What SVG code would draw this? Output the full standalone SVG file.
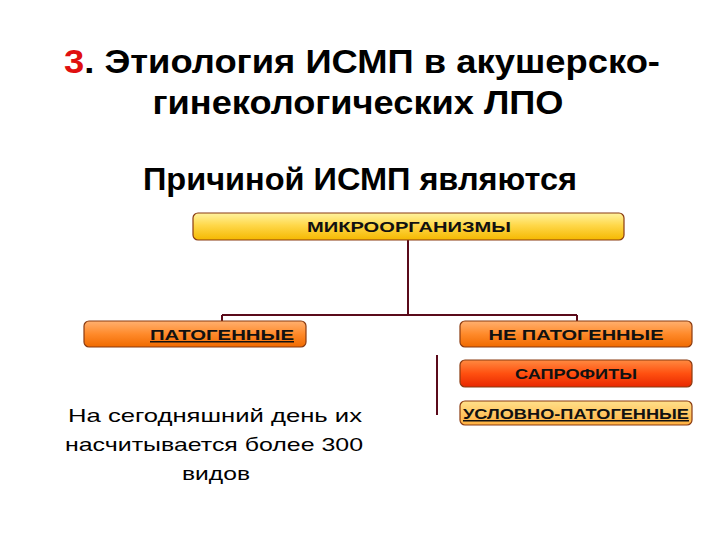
<svg xmlns="http://www.w3.org/2000/svg" width="720" height="540" viewBox="0 0 720 540">
<defs>
<linearGradient id="gy" x1="0" y1="0" x2="0" y2="1"><stop offset="0" stop-color="#fff3a0"/><stop offset="0.45" stop-color="#ffd84a"/><stop offset="1" stop-color="#f5b800"/></linearGradient>
<linearGradient id="go" x1="0" y1="0" x2="0" y2="1"><stop offset="0" stop-color="#ffb070"/><stop offset="0.5" stop-color="#ff8a2a"/><stop offset="1" stop-color="#f06a00"/></linearGradient>
<linearGradient id="gr" x1="0" y1="0" x2="0" y2="1"><stop offset="0" stop-color="#ff8a40"/><stop offset="0.5" stop-color="#ff5010"/><stop offset="1" stop-color="#e82800"/></linearGradient>
<linearGradient id="gl" x1="0" y1="0" x2="0" y2="1"><stop offset="0" stop-color="#ffe08a"/><stop offset="1" stop-color="#ffb040"/></linearGradient>
</defs>
<style>
.t{font-family:"Liberation Sans",Arial,sans-serif;font-weight:bold;fill:#000;text-anchor:middle}
.b{stroke:#8a3a10;stroke-width:1.2}
.l{font-family:"Liberation Sans",Arial,sans-serif;font-weight:bold;font-size:15px;fill:#111;text-anchor:middle}
.c{stroke:#5a0a1a;stroke-width:2;fill:none}
.n{font-family:"Liberation Sans",Arial,sans-serif;font-size:19px;fill:#000;text-anchor:middle}
</style>
<text class="t" x="362" y="73" font-size="33" textLength="596" lengthAdjust="spacingAndGlyphs"><tspan fill="#e01010">3</tspan>. Этиология ИСМП в акушерско-</text>
<text class="t" x="358" y="114" font-size="33" textLength="411" lengthAdjust="spacingAndGlyphs">гинекологических ЛПО</text>
<text class="t" x="360" y="190" font-size="31" textLength="434" lengthAdjust="spacingAndGlyphs">Причиной ИСМП  являются</text>
<g id="connectors">
<path class="c" d="M408 240 V315 M222 315 H577 M222 315 V321 M577 315 V321"/>
<path class="c" d="M437 355 V415"/>
</g>
<g id="micro">
<rect class="b" x="193" y="213" width="431" height="27" rx="5" fill="url(#gy)"/>
<text class="l" x="409" y="232" textLength="204" lengthAdjust="spacingAndGlyphs">МИКРООРГАНИЗМЫ</text>
</g>
<g id="pat">
<rect class="b" x="84" y="321" width="222" height="26" rx="5" fill="url(#go)"/>
<text class="l" x="222" y="340" textLength="144" lengthAdjust="spacingAndGlyphs" text-decoration="underline">ПАТОГЕННЫЕ</text>
</g>
<g id="nepat">
<rect class="b" x="460" y="321" width="232" height="26" rx="5" fill="url(#go)"/>
<text class="l" x="576" y="340" textLength="175" lengthAdjust="spacingAndGlyphs">НЕ ПАТОГЕННЫЕ</text>
</g>
<g id="sapr">
<rect class="b" x="460" y="360" width="232" height="27" rx="5" fill="url(#gr)"/>
<text class="l" x="576" y="379" textLength="122" lengthAdjust="spacingAndGlyphs">САПРОФИТЫ</text>
</g>
<g id="uslovno">
<rect class="b" x="460" y="401" width="232" height="24" rx="5" fill="url(#gl)"/>
<text class="l" x="576" y="419" textLength="226" lengthAdjust="spacingAndGlyphs" text-decoration="underline">УСЛОВНО-ПАТОГЕННЫЕ</text>
</g>
<g id="note">
<text class="n" x="215" y="422" textLength="294" lengthAdjust="spacingAndGlyphs">На сегодняшний день их</text>
<text class="n" x="214" y="451" textLength="298" lengthAdjust="spacingAndGlyphs">насчитывается более 300</text>
<text class="n" x="216" y="480" textLength="68" lengthAdjust="spacingAndGlyphs">видов</text>
</g>
</svg>
